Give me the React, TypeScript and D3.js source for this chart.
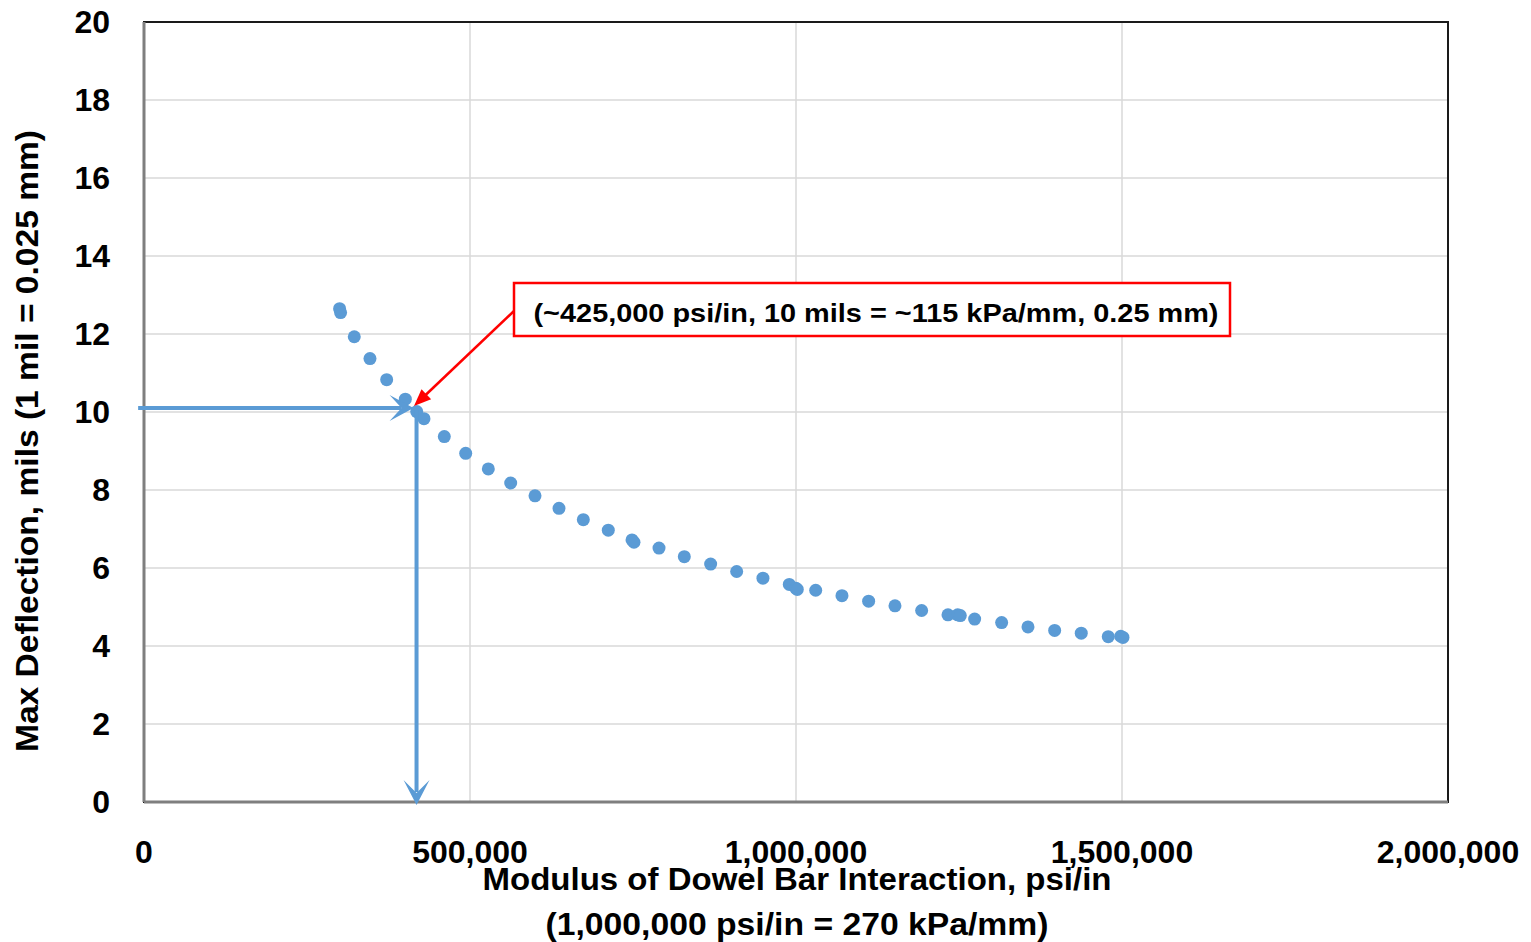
import React from "react";
import * as d3 from "d3";

const deflectionX = [300000, 301500, 322500, 346600, 372200, 400800, 418300, 429400, 460600, 493400, 528100, 562400, 599700, 636500, 673800, 712100, 748500, 751500, 789900, 828700, 869100, 909000, 949300, 989700, 1000000, 1002000, 1030200, 1070500, 1111400, 1151800, 1192700, 1233100, 1248000, 1252000, 1274000, 1315400, 1355800, 1396700, 1437500, 1478900, 1498000, 1501500];
const deflectionY = [12.65, 12.55, 11.93, 11.37, 10.83, 10.33, 10.01, 9.83, 9.37, 8.94, 8.54, 8.18, 7.85, 7.53, 7.24, 6.97, 6.72, 6.66, 6.51, 6.29, 6.10, 5.91, 5.74, 5.58, 5.48, 5.45, 5.43, 5.29, 5.15, 5.03, 4.91, 4.80, 4.80, 4.78, 4.69, 4.60, 4.49, 4.40, 4.33, 4.24, 4.25, 4.22];

const xTicks = [0, 500000, 1000000, 1500000, 2000000];
const yTicks = [0, 2, 4, 6, 8, 10, 12, 14, 16, 18, 20];

// reference lines
const refLineX = [-9000, 418000]; // horizontal line start, vertical line x
const refLineY = 10.1;
const calloutText = "(~425,000 psi/in, 10 mils = ~115 kPa/mm, 0.25 mm)";
const xTitle1 = "Modulus of Dowel Bar Interaction, psi/in";
const xTitle2 = "(1,000,000 psi/in = 270 kPa/mm)";
const yTitle = "Max  Deflection, mils (1 mil = 0.025 mm)";

const W = 1531;
const H = 942;
const left = 144, right = 1448, top = 22, bottom = 802;

const BLUE = "#5b9bd5";
const FONT = "'Liberation Sans', Arial, sans-serif";

function stealth(tx: number, ty: number, dx: number, dy: number, L: number, Wd: number, notch: number) {
  const px = -dy, py = dx;
  const bx = tx - dx * L, by = ty - dy * L;
  const nx = tx - dx * notch, ny = ty - dy * notch;
  return `M${tx},${ty}L${bx + px * Wd},${by + py * Wd}L${nx},${ny}L${bx - px * Wd},${by - py * Wd}Z`;
}

function tri(tx: number, ty: number, dx: number, dy: number, L: number, Wd: number) {
  const px = -dy, py = dx;
  const bx = tx - dx * L, by = ty - dy * L;
  return `M${tx},${ty}L${bx + px * Wd},${by + py * Wd}L${bx - px * Wd},${by - py * Wd}Z`;
}

export default function App() {
  const x = d3.scaleLinear().domain([0, 2000000]).range([left, right]);
  const y = d3.scaleLinear().domain([0, 20]).range([bottom, top]);
  const fmt = d3.format(",");

  const hy = y(refLineY);
  const hx0 = x(refLineX[0]);
  const vx = x(refLineX[1]);
  const hTip = vx - 3;

  // red callout
  const boxX = 514, boxY = 283, boxW = 716, boxH = 53;
  const rStartX = boxX, rStartY = 311;
  const rTipX = 414, rTipY = 406;
  const rlen = Math.hypot(rTipX - rStartX, rTipY - rStartY);
  const rdx = (rTipX - rStartX) / rlen, rdy = (rTipY - rStartY) / rlen;

  return (
    <svg width={W} height={H} style={{ display: "block", position: "absolute", left: 0, top: 0 }}>
      <rect x={0} y={0} width={W} height={H} fill="#fff" />
      {/* gridlines */}
      {yTicks.map((t) => (
        <line key={"gy" + t} x1={left} x2={right} y1={y(t)} y2={y(t)} stroke="#d9d9d9" strokeWidth={1.5} />
      ))}
      {xTicks.map((t) => (
        <line key={"gx" + t} x1={x(t)} x2={x(t)} y1={top} y2={bottom} stroke="#d9d9d9" strokeWidth={1.5} />
      ))}
      {/* frame */}
      <rect x={left} y={top} width={right - left} height={bottom - top} fill="none" stroke="#1a1a1a" strokeWidth={2} />
      <line x1={left} x2={right} y1={bottom} y2={bottom} stroke="#7f7f7f" strokeWidth={3} />
      <line x1={left} x2={left} y1={top} y2={bottom} stroke="#7f7f7f" strokeWidth={3} />

      {/* y tick labels */}
      {yTicks.map((t) => (
        <text key={"ty" + t} x={110} y={y(t) + 11} textAnchor="end" fontFamily={FONT} fontWeight="bold" fontSize={32} fill="#000">
          {t}
        </text>
      ))}
      {/* x tick labels */}
      {xTicks.map((t) => (
        <text key={"tx" + t} x={x(t)} y={863} textAnchor="middle" fontFamily={FONT} fontWeight="bold" fontSize={32} fill="#000">
          {fmt(t)}
        </text>
      ))}

      {/* points */}
      {deflectionX.map((v, i) => (
        <circle key={"p" + i} cx={x(v)} cy={y(deflectionY[i])} r={6.5} fill={BLUE} />
      ))}

      {/* reference lines */}
      <line x1={hx0} x2={hTip - 12} y1={hy} y2={hy} stroke={BLUE} strokeWidth={4} />
      <path d={stealth(hTip, hy, 1, 0, 24, 13, 12)} fill={BLUE} />
      <line x1={vx} x2={vx} y1={hy + 2} y2={bottom - 10} stroke={BLUE} strokeWidth={4} />
      <path d={stealth(vx, bottom + 3, 0, 1, 25, 13, 12)} fill={BLUE} />

      {/* callout */}
      <line x1={rStartX} y1={rStartY} x2={rTipX - rdx * 12} y2={rTipY - rdy * 12} stroke="#ff0000" strokeWidth={2.5} />
      <path d={tri(rTipX, rTipY, rdx, rdy, 17, 7)} fill="#ff0000" />
      <rect x={boxX} y={boxY} width={boxW} height={boxH} fill="#fff" stroke="#ff0000" strokeWidth={2.5} />
      <text x={boxX + boxW / 2 + 4} y={322} textAnchor="middle" fontFamily={FONT} fontWeight="bold" fontSize={25} textLength={685} lengthAdjust="spacingAndGlyphs" fill="#000">
        {calloutText}
      </text>

      {/* axis titles */}
      <text x={797} y={890} textAnchor="middle" fontFamily={FONT} fontWeight="bold" fontSize={31} textLength={629} lengthAdjust="spacingAndGlyphs" fill="#000">
        {xTitle1}
      </text>
      <text x={797} y={935} textAnchor="middle" fontFamily={FONT} fontWeight="bold" fontSize={31} textLength={503} lengthAdjust="spacingAndGlyphs" fill="#000">
        {xTitle2}
      </text>
      <text transform={`translate(38,441) rotate(-90)`} textAnchor="middle" fontFamily={FONT} fontWeight="bold" fontSize={31} textLength={622} lengthAdjust="spacingAndGlyphs" fill="#000">
        {yTitle}
      </text>
    </svg>
  );
}
